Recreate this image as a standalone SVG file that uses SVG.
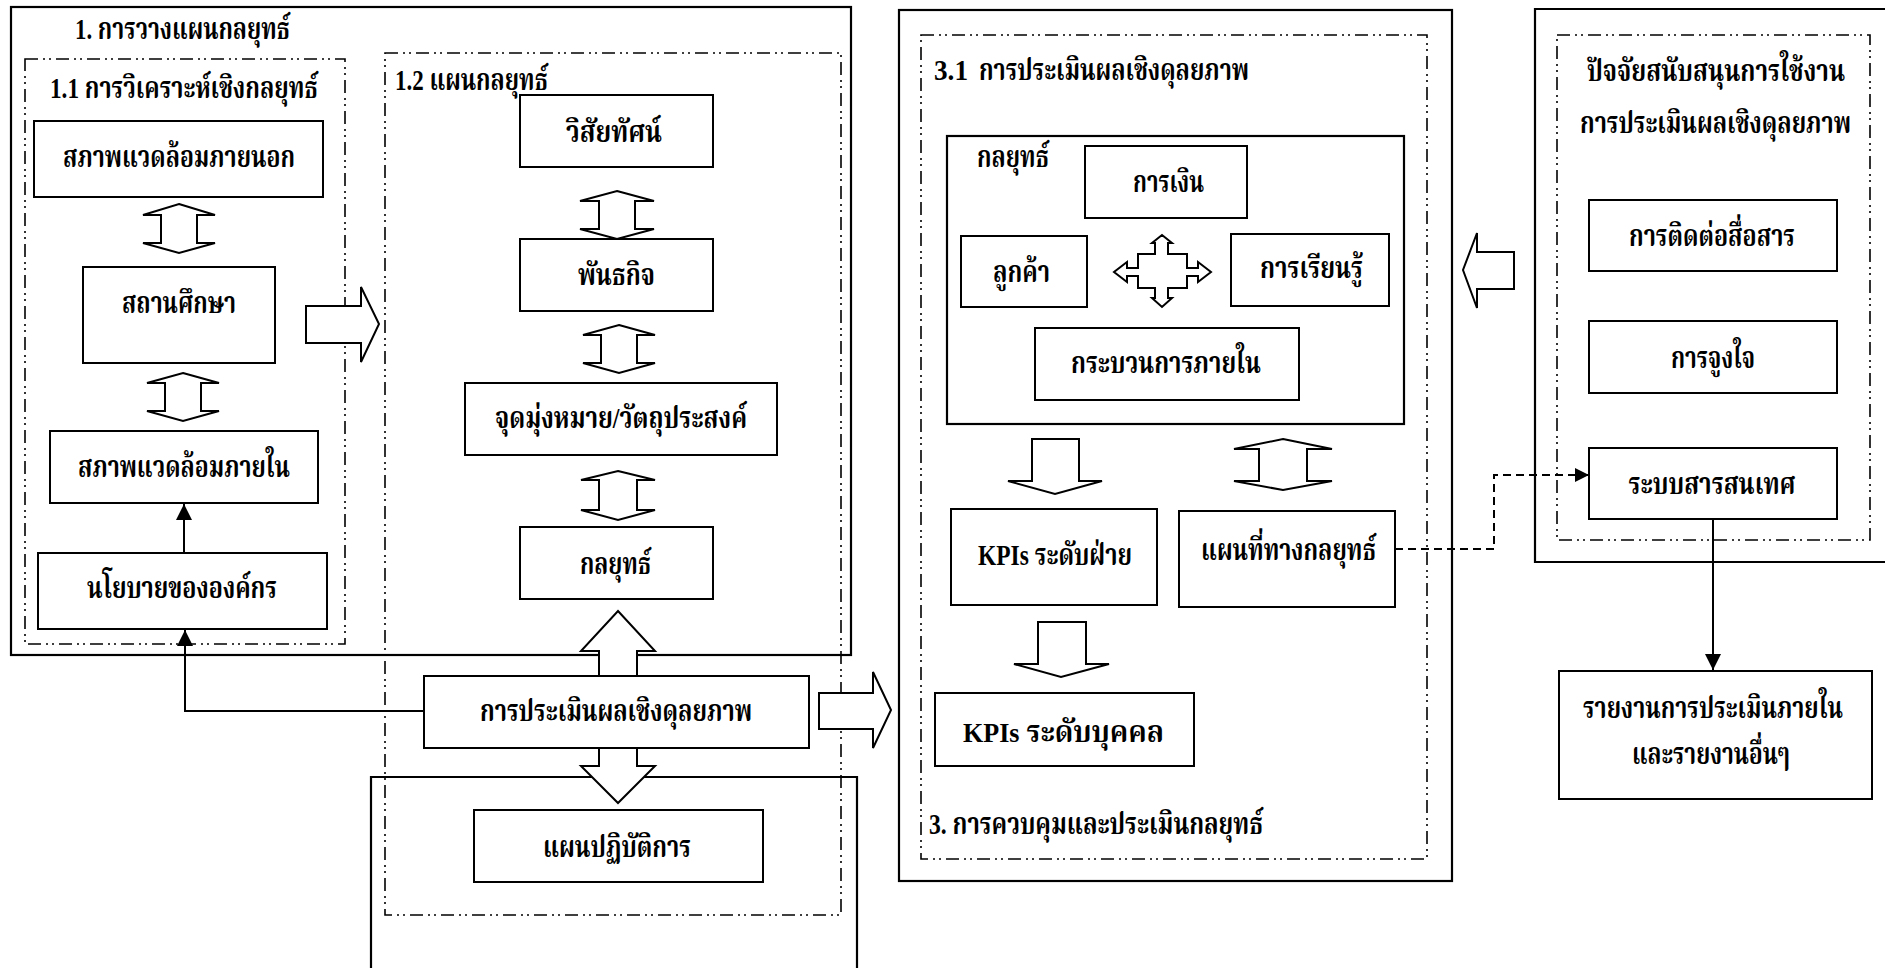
<svg xmlns="http://www.w3.org/2000/svg" width="1885" height="968" viewBox="0 0 1885 968">
  <style>
    .frame { fill: none; stroke: #000; stroke-width: 2.2; }
    .group { fill: none; stroke: #000; stroke-width: 1.6; stroke-dasharray: 13 5 2 4 2 5; }
    .node { fill: #fff; stroke: #000; stroke-width: 2; }
    .blk { fill: #fff; stroke: #000; stroke-width: 2; stroke-linejoin: miter; }
    .wire { fill: none; stroke: #000; stroke-width: 2; }
    .dash { fill: none; stroke: #000; stroke-width: 2; stroke-dasharray: 8 5; }
    text { font-family: "Liberation Serif", "Noto Serif Thai", "Noto Sans Thai", serif; font-weight: bold; font-size: 30px; fill: #000; }
    .mid { text-anchor: middle; }
    .end { text-anchor: end; }
  </style>
  <defs>
    <marker id="tip" markerUnits="userSpaceOnUse" markerWidth="16" markerHeight="16" viewBox="0 0 16 16" refX="16" refY="8" orient="auto">
      <path d="M0,0 L16,8 L0,16 Z" fill="#000"/>
    </marker>
    <marker id="tipS" markerUnits="userSpaceOnUse" markerWidth="14" markerHeight="14" viewBox="0 0 14 14" refX="14" refY="7" orient="auto">
      <path d="M0,0 L14,7 L0,14 Z" fill="#000"/>
    </marker>
  </defs>

  <rect width="1885" height="968" fill="#fff"/>

  <!-- frames and dash-dot groups -->
  <g id="frames">
    <rect class="frame" x="11" y="7" width="840" height="648"/>
    <rect class="group" x="25" y="59" width="320" height="585"/>
    <rect class="group" x="385" y="53" width="456" height="862"/>
    <path class="frame" d="M371,975 V777 H857 V975"/>
    <rect class="frame" x="899" y="10" width="553" height="871"/>
    <rect class="group" x="921" y="35" width="506" height="824"/>
    <rect class="frame" x="947" y="136" width="457" height="288"/>
    <path class="frame" d="M1890,9 H1535 V562 H1890"/>
    <rect class="group" x="1557" y="35" width="313" height="505"/>
  </g>

  <!-- group titles -->
  <g id="titles">
    <text x="75" y="39" font-size="25" textLength="215" lengthAdjust="spacingAndGlyphs">1. การวางแผนกลยุทธ์</text>
    <text x="50" y="98" font-size="29" textLength="268" lengthAdjust="spacingAndGlyphs">1.1 การวิเคราะห์เชิงกลยุทธ์</text>
    <text x="395" y="90" font-size="24" textLength="153" lengthAdjust="spacingAndGlyphs">1.2 แผนกลยุทธ์</text>
    <text x="934" y="80" font-size="26" textLength="34" lengthAdjust="spacingAndGlyphs">3.1</text>
    <text x="979" y="80" font-size="26" textLength="270" lengthAdjust="spacingAndGlyphs">การประเมินผลเชิงดุลยภาพ</text>
    <text x="977" y="167" font-size="27" textLength="72" lengthAdjust="spacingAndGlyphs">กลยุทธ์</text>
    <text x="929" y="834" font-size="26" textLength="334" lengthAdjust="spacingAndGlyphs">3. การควบคุมและประเมินกลยุทธ์</text>
    <text class="end" x="1845" y="81" font-size="27" textLength="258" lengthAdjust="spacingAndGlyphs">ปัจจัยสนับสนุนการใช้งาน</text>
    <text class="end" x="1851" y="133" font-size="27" textLength="271" lengthAdjust="spacingAndGlyphs">การประเมินผลเชิงดุลยภาพ</text>
  </g>

  <!-- block arrows -->
  <g id="block-arrows">
    <path class="blk" d="M179,204 L215,215 L197,215 L197,243 L215,243 L179,253 L143,243 L161,243 L161,215 L143,215 Z"/>
    <path class="blk" d="M183,373 L219,383 L201,383 L201,411 L219,411 L183,421 L147,411 L165,411 L165,383 L147,383 Z"/>
    <path class="blk" d="M617,191 L654,201 L635,201 L635,229 L654,229 L617,239 L580,229 L599,229 L599,201 L580,201 Z"/>
    <path class="blk" d="M619,325 L655,335 L637,335 L637,363 L655,363 L619,373 L583,363 L601,363 L601,335 L583,335 Z"/>
    <path class="blk" d="M618,471 L655,480 L637,480 L637,510 L655,510 L618,520 L581,510 L599,510 L599,480 L581,480 Z"/>
    <path class="blk" d="M618,611 L655,651 L637,651 L637,766 L655,766 L618,803 L581,766 L599,766 L599,651 L581,651 Z"/>
    <path class="blk" d="M306,306 L361,306 L361,287 L379,324 L361,362 L361,343 L306,343 Z"/>
    <path class="blk" d="M819,693 L873,693 L873,672 L891,710 L873,748 L873,729 L819,729 Z"/>
    <path class="blk" d="M1514,252 L1477,252 L1477,233 L1463,270 L1477,308 L1477,289 L1514,289 Z"/>
    <path class="blk" d="M1032,439 L1079,439 L1079,481 L1102,481 L1055,494 L1008,481 L1032,481 Z"/>
    <path class="blk" d="M1038,622 L1086,622 L1086,664 L1109,664 L1061,677 L1014,664 L1038,664 Z"/>
    <path class="blk" d="M1283,439 L1332,449 L1307,449 L1307,481 L1332,481 L1283,490 L1234,481 L1259,481 L1259,449 L1234,449 Z"/>
    <!-- four-way arrow between perspectives -->
    <path class="blk" stroke-width="1.8" d="M1162,235 L1172,243 L1168,243 L1168,254 L1187,254 L1187,268 L1198,268 L1198,262 L1211,272 L1198,282 L1198,276 L1187,276 L1187,288 L1168,288 L1168,298 L1172,298 L1162,307 L1152,298 L1155,298 L1155,288 L1138,288 L1138,276 L1127,276 L1127,282 L1114,272 L1127,262 L1127,268 L1138,268 L1138,254 L1155,254 L1155,243 L1152,243 Z"/>
  </g>

  <!-- connectors -->
  <g id="connectors">
    <line class="wire" x1="184" y1="553" x2="184" y2="504" marker-end="url(#tip)"/>
    <polyline class="wire" points="424,711 185,711 185,630" marker-end="url(#tip)"/>
    <polyline class="dash" points="1395,549 1494,549 1494,475 1589,475" marker-end="url(#tipS)"/>
    <line class="wire" x1="1713" y1="519" x2="1713" y2="670" marker-end="url(#tip)"/>
  </g>

  <!-- 1.1 strategic analysis -->
  <g id="n-external">
    <rect class="node" x="34" y="121" width="289" height="76"/>
    <text x="63" y="167" textLength="232" lengthAdjust="spacingAndGlyphs">สภาพแวดล้อมภายนอก</text>
  </g>
  <g id="n-school">
    <rect class="node" x="83" y="267" width="192" height="96"/>
    <text x="122" y="313" textLength="114" lengthAdjust="spacingAndGlyphs">สถานศึกษา</text>
  </g>
  <g id="n-internal">
    <rect class="node" x="50" y="431" width="268" height="72"/>
    <text x="78" y="477" textLength="212" lengthAdjust="spacingAndGlyphs">สภาพแวดล้อมภายใน</text>
  </g>
  <g id="n-policy">
    <rect class="node" x="38" y="553" width="289" height="76"/>
    <text x="87" y="598" textLength="190" lengthAdjust="spacingAndGlyphs">นโยบายขององค์กร</text>
  </g>

  <!-- 1.2 strategic plan -->
  <g id="n-vision">
    <rect class="node" x="520" y="95" width="193" height="72"/>
    <text x="566" y="142" textLength="96" lengthAdjust="spacingAndGlyphs">วิสัยทัศน์</text>
  </g>
  <g id="n-mission">
    <rect class="node" x="520" y="239" width="193" height="72"/>
    <text x="578" y="285" textLength="77" lengthAdjust="spacingAndGlyphs">พันธกิจ</text>
  </g>
  <g id="n-goals">
    <rect class="node" x="465" y="383" width="312" height="72"/>
    <text x="495" y="428" textLength="252" lengthAdjust="spacingAndGlyphs">จุดมุ่งหมาย/วัตถุประสงค์</text>
  </g>
  <g id="n-strategy">
    <rect class="node" x="520" y="527" width="193" height="72"/>
    <text x="580" y="574" textLength="71" lengthAdjust="spacingAndGlyphs">กลยุทธ์</text>
  </g>
  <g id="n-bsc">
    <rect class="node" x="424" y="676" width="385" height="72"/>
    <text x="480" y="721" textLength="272" lengthAdjust="spacingAndGlyphs">การประเมินผลเชิงดุลยภาพ</text>
  </g>
  <g id="n-action">
    <rect class="node" x="474" y="810" width="289" height="72"/>
    <text x="543" y="857" textLength="148" lengthAdjust="spacingAndGlyphs">แผนปฏิบัติการ</text>
  </g>

  <!-- 3.1 balanced scorecard -->
  <g id="n-finance">
    <rect class="node" x="1085" y="146" width="162" height="72"/>
    <text x="1133" y="192" font-size="29" textLength="71" lengthAdjust="spacingAndGlyphs">การเงิน</text>
  </g>
  <g id="n-customer">
    <rect class="node" x="961" y="236" width="126" height="71"/>
    <text x="993" y="282" textLength="57" lengthAdjust="spacingAndGlyphs">ลูกค้า</text>
  </g>
  <g id="n-learning">
    <rect class="node" x="1231" y="234" width="158" height="72"/>
    <text x="1260" y="278" textLength="103" lengthAdjust="spacingAndGlyphs">การเรียนรู้</text>
  </g>
  <g id="n-process">
    <rect class="node" x="1035" y="328" width="264" height="72"/>
    <text x="1071" y="373" textLength="190" lengthAdjust="spacingAndGlyphs">กระบวนการภายใน</text>
  </g>
  <g id="n-kpi-dept">
    <rect class="node" x="951" y="509" width="206" height="96"/>
    <text x="978" y="565" font-size="27" textLength="154" lengthAdjust="spacingAndGlyphs">KPIs ระดับฝ่าย</text>
  </g>
  <g id="n-map">
    <rect class="node" x="1179" y="511" width="216" height="96"/>
    <text x="1201" y="560" textLength="175" lengthAdjust="spacingAndGlyphs">แผนที่ทางกลยุทธ์</text>
  </g>
  <g id="n-kpi-person">
    <rect class="node" x="935" y="693" width="259" height="73"/>
    <text x="963" y="742" textLength="201" lengthAdjust="spacingAndGlyphs"><tspan font-size="28">KPIs</tspan> ระดับบุคคล</text>
  </g>

  <!-- supporting factors -->
  <g id="n-comm">
    <rect class="node" x="1589" y="200" width="248" height="71"/>
    <text class="mid" x="1712" y="246" textLength="166" lengthAdjust="spacingAndGlyphs">การติดต่อสื่อสาร</text>
  </g>
  <g id="n-motivation">
    <rect class="node" x="1589" y="321" width="248" height="72"/>
    <text class="mid" x="1713" y="368" textLength="84" lengthAdjust="spacingAndGlyphs">การจูงใจ</text>
  </g>
  <g id="n-infosys">
    <rect class="node" x="1589" y="448" width="248" height="71"/>
    <text class="mid" x="1712" y="494" textLength="167" lengthAdjust="spacingAndGlyphs">ระบบสารสนเทศ</text>
  </g>
  <g id="n-report">
    <rect class="node" x="1559" y="671" width="313" height="128"/>
    <text class="end" x="1843" y="718" font-size="29" textLength="260" lengthAdjust="spacingAndGlyphs">รายงานการประเมินภายใน</text>
    <text class="mid" x="1711" y="764" font-size="29" textLength="158" lengthAdjust="spacingAndGlyphs">และรายงานอื่นๆ</text>
  </g>
</svg>
